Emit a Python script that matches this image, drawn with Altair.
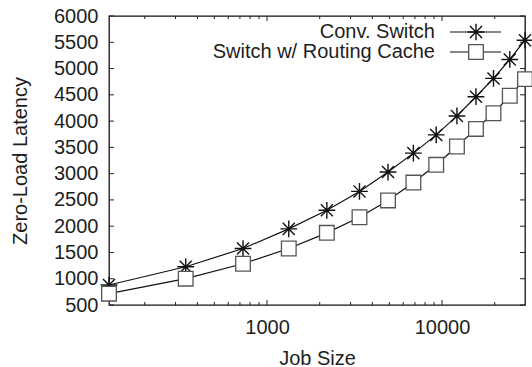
import altair as alt
import pandas as pd

# Data (job sizes are odd cubes 5^3 .. 31^3)
job_size = [125, 343, 729, 1331, 2197, 3375, 4913, 6859, 9261, 12167, 15625, 19683, 24389, 29791]
conv_switch = [880, 1228, 1575, 1949, 2302, 2662, 3030, 3390, 3737, 4098, 4464, 4812, 5173, 5539]
routing_cache = [716, 1001, 1285, 1575, 1873, 2169, 2490, 2830, 3168, 3516, 3851, 4149, 4483, 4799]

series_names = ["Conv. Switch", "Switch w/ Routing Cache"]
y_ticks = list(range(500, 6001, 500))
x_major = [1000, 10000]
x_minor = [200, 300, 400, 500, 600, 700, 800, 900,
           2000, 3000, 4000, 5000, 6000, 7000, 8000, 9000, 20000]

W, H = 416, 289
FONT = "Liberation Sans"
FS = 20
TXT = "#1e1e1e"

df_conv = pd.DataFrame({"x": job_size, "y": conv_switch})
df_cache = pd.DataFrame({"x": job_size, "y": routing_cache})

xs = alt.Scale(type="log", domain=[125, 29791], nice=False, zero=False)
ys = alt.Scale(domain=[500, 6000], nice=False, zero=False)

x_axis = alt.Axis(values=x_major, format="d", title="Job Size",
                  ticks=False, grid=False, domain=False,
                  labelFont=FONT, labelFontSize=FS, labelColor=TXT,
                  labelPadding=12,
                  titleFont=FONT, titleFontSize=FS, titleColor=TXT,
                  titleFontWeight="normal",
                  titleX=W / 2, titleY=53, titleBaseline="middle")
y_axis = alt.Axis(values=y_ticks, format="d", title="Zero-Load Latency",
                  ticks=False, grid=False, domain=False,
                  labelFont=FONT, labelFontSize=FS, labelColor=TXT,
                  labelPadding=11,
                  titleFont=FONT, titleFontSize=FS, titleColor=TXT,
                  titleFontWeight="normal",
                  titleX=-89, titleY=H / 2, titleAngle=270,
                  titleBaseline="middle", titleAlign="center")

X = alt.X("x:Q", scale=xs, axis=x_axis)
Y = alt.Y("y:Q", scale=ys, axis=y_axis)

STAR = "M-1,0L1,0M0,-1L0,1M-0.72,-0.72L0.72,0.72M-0.72,0.72L0.72,-0.72"

# inward ticks (gnuplot style), mirrored
yt = pd.DataFrame({"y": y_ticks})
ytick_l = alt.Chart(yt).mark_rule(color="#222", strokeWidth=1).encode(
    y=Y, x=alt.value(0), x2=alt.value(5))
ytick_r = alt.Chart(yt).mark_rule(color="#222", strokeWidth=1).encode(
    y=Y, x=alt.value(W - 5), x2=alt.value(W))

xm = pd.DataFrame({"x": x_major})
xn = pd.DataFrame({"x": x_minor})
xtick_bm = alt.Chart(xm).mark_rule(color="#222", strokeWidth=1).encode(
    x=X, y=alt.value(H - 5), y2=alt.value(H))
xtick_tm = alt.Chart(xm).mark_rule(color="#222", strokeWidth=1).encode(
    x=X, y=alt.value(0), y2=alt.value(5))
xtick_bn = alt.Chart(xn).mark_rule(color="#222", strokeWidth=1).encode(
    x=X, y=alt.value(H - 3), y2=alt.value(H))
xtick_tn = alt.Chart(xn).mark_rule(color="#222", strokeWidth=1).encode(
    x=X, y=alt.value(0), y2=alt.value(3))

line_conv = alt.Chart(df_conv).mark_line(color="#111", strokeWidth=1.2).encode(x=X, y=Y)
line_cache = alt.Chart(df_cache).mark_line(color="#111", strokeWidth=1.2).encode(x=X, y=Y)

pts_conv = alt.Chart(df_conv).mark_point(shape=STAR, size=280, color="#111",
                                         strokeWidth=1.4, filled=False,
                                         opacity=1).encode(x=X, y=Y)
pts_cache = alt.Chart(df_cache).mark_point(shape="square", size=215, stroke="#555",
                                           fill="white", fillOpacity=1, opacity=1,
                                           strokeWidth=1.3, filled=False).encode(x=X, y=Y)

# legend (top-right, inside plot)
leg_text = []
leg_marks = []
for i, (nm, yy) in enumerate(zip(series_names, [16, 36])):
    d = pd.DataFrame({"name": [nm]})
    leg_text.append(alt.Chart(d).mark_text(font=FONT, fontSize=FS, color=TXT,
                                           align="right", baseline="middle").encode(
        text="name:N", x=alt.value(326), y=alt.value(yy)))
    leg_marks.append(alt.Chart(d).mark_rule(color="#111", strokeWidth=1.2).encode(
        x=alt.value(341), x2=alt.value(392), y=alt.value(yy)))
    if i == 0:
        leg_marks.append(alt.Chart(d).mark_point(shape=STAR, size=280, color="#111",
                                                 strokeWidth=1.4, opacity=1).encode(
            x=alt.value(367), y=alt.value(yy)))
    else:
        leg_marks.append(alt.Chart(d).mark_point(shape="square", size=215, stroke="#555",
                                                 fill="white", fillOpacity=1, opacity=1,
                                                 strokeWidth=1.3).encode(
            x=alt.value(367), y=alt.value(yy)))

chart = alt.layer(
    ytick_l, ytick_r, xtick_bm, xtick_tm, xtick_bn, xtick_tn,
    line_conv, line_cache, pts_conv, pts_cache, *leg_text, *leg_marks
).properties(
    width=W, height=H,
    padding={"left": 109, "top": 16, "right": 7, "bottom": 62},
    autosize=alt.AutoSizeParams(type="none"),
    background="white",
).configure_view(stroke="#111", strokeWidth=1.3)

chart.save("out.html", embed_options={"renderer": "svg", "actions": False})
